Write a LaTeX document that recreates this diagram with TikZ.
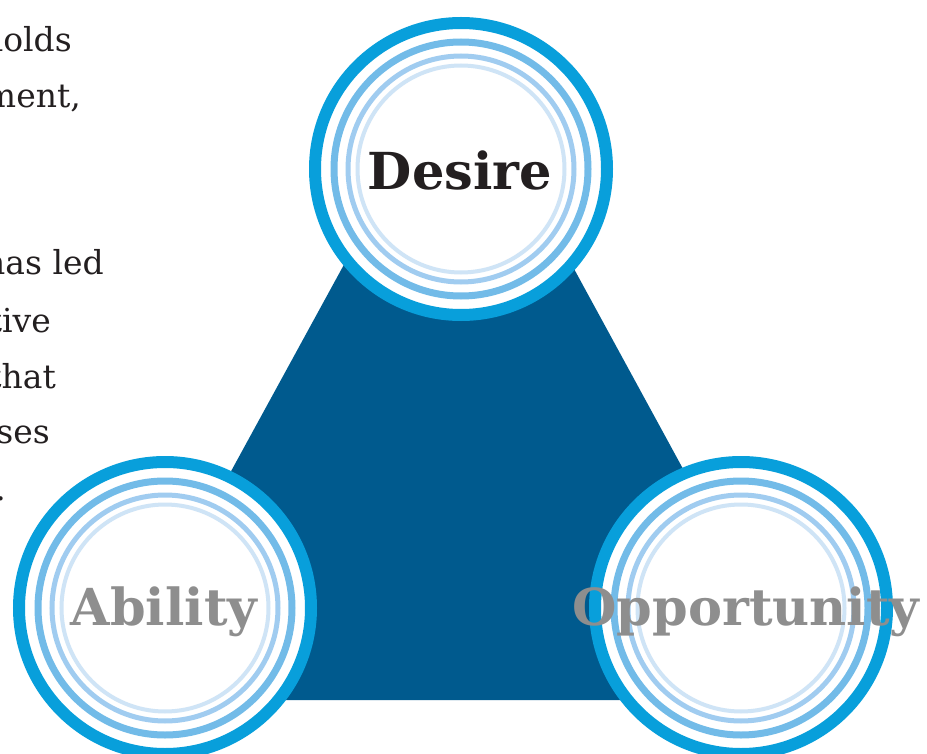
\documentclass[tikz,border=0pt]{standalone}
\usepackage{fontspec}
\setmainfont{DejaVu Serif}

\definecolor{triblue}{HTML}{005A8E}
\definecolor{ringa}{HTML}{089FDB}
\definecolor{ringb}{HTML}{72BBE8}
\definecolor{ringc}{HTML}{A0CCF0}
\definecolor{ringd}{HTML}{CFE4F6}
\definecolor{greytext}{HTML}{8E8E8E}
\definecolor{inktext}{HTML}{231F20}

\begin{document}
\begin{tikzpicture}[x=1pt, y=-1pt,
        disc/.style = {draw=ringa, circle, fill=white, line width=12pt, minimum size=292pt, inner sep=0pt},
        word/.style = {font=\fontsize{51}{60}\selectfont\bfseries, anchor=base, inner sep=0pt},
        body/.style = {font=\fontsize{33}{40}\selectfont, text=inktext, anchor=base east, inner sep=0pt}]
    \useasboundingbox (0,0) rectangle (927,754);
    \clip (0,0) rectangle (927,754);
    % text column cut off at the left
    \node[body] (line1) at (72,52) {holds};
    \node[body] (line2) at (81,108) {ment,};
    \node[body] (line3) at (104,275) {has led};
    \node[body] (line4) at (51,332) {tive};
    \node[body] (line5) at (56,388) {that};
    \node[body] (line6) at (50,443) {ses};
    \node[body] (line7) at (6,500) {.};
    % triangle behind the circles
    \coordinate (apex) at (458,56);
    \coordinate (left) at (106,700);
    \coordinate (right) at (809,700);
    \fill[triblue] (apex) -- (left) -- (right) -- cycle;
    % circles
    \node[disc] (desire) at (461,169) {};
    \node[disc] (ability) at (165,608) {};
    \node[disc] (opportunity) at (741,608) {};
    \foreach \c in {desire, ability, opportunity} {
        \draw[ringb, line width=7pt] (\c.center) circle[radius=127];
        \draw[ringc, line width=5pt] (\c.center) circle[radius=113];
        \draw[ringd, line width=4pt] (\c.center) circle[radius=103.5];
    }
    \node[word, text=inktext] (desire-text) at (460,190) {Desire};
    \node[word, text=greytext] (ability-text) at (164,625) {Ability};
    \node[word, text=greytext] (opportunity-text) at (746,625) {Opportunity};
\end{tikzpicture}
\end{document}
